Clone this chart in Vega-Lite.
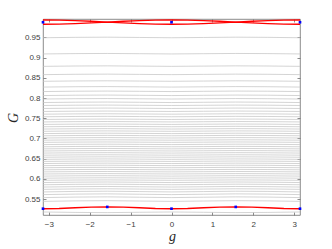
{
"$schema": "https://vega.github.io/schema/vega-lite/v6.json",
"width": 257, "height": 196,
"autosize": {"type": "none"},
"padding": {"left": 43, "top": 19, "right": 32, "bottom": 34},
"config": {"view": {"stroke": "#6e6e6e", "strokeWidth": 0.8},
  "axis": {"grid": false, "domain": false, "tickColor": "#6e6e6e", "tickSize": -3, "tickWidth": 0.8, "labelFont": "Liberation Sans", "labelFontSize": 8, "labelColor": "#404040", "titleFont": "Liberation Serif", "titleFontStyle": "italic", "titleFontWeight": "normal", "titleFontSize": 14, "titleColor": "#262626"}},
"datasets": {
"gray": [
{"k":1,"g":-3.1416,"G":0.9493},{"k":1,"g":-1.5708,"G":0.9507},{"k":1,"g":0,"G":0.9493},{"k":1,"g":1.5708,"G":0.9507},{"k":1,"g":3.1416,"G":0.9493},
{"k":2,"g":-3.1416,"G":0.9092},{"k":2,"g":-1.5708,"G":0.9104},{"k":2,"g":0,"G":0.9092},{"k":2,"g":1.5708,"G":0.9104},{"k":2,"g":3.1416,"G":0.9092},
{"k":3,"g":-3.1416,"G":0.8785},{"k":3,"g":-1.5708,"G":0.8797},{"k":3,"g":0,"G":0.8785},{"k":3,"g":1.5708,"G":0.8797},{"k":3,"g":3.1416,"G":0.8785},
{"k":4,"g":-3.1416,"G":0.8580},{"k":4,"g":-1.5708,"G":0.8592},{"k":4,"g":0,"G":0.8580},{"k":4,"g":1.5708,"G":0.8592},{"k":4,"g":3.1416,"G":0.8580},
{"k":5,"g":-3.1416,"G":0.8415},{"k":5,"g":-1.5708,"G":0.8427},{"k":5,"g":0,"G":0.8415},{"k":5,"g":1.5708,"G":0.8427},{"k":5,"g":3.1416,"G":0.8415},
{"k":6,"g":-3.1416,"G":0.8272},{"k":6,"g":-1.5708,"G":0.8284},{"k":6,"g":0,"G":0.8272},{"k":6,"g":1.5708,"G":0.8284},{"k":6,"g":3.1416,"G":0.8272},
{"k":7,"g":-3.1416,"G":0.8161},{"k":7,"g":-1.5708,"G":0.8173},{"k":7,"g":0,"G":0.8161},{"k":7,"g":1.5708,"G":0.8173},{"k":7,"g":3.1416,"G":0.8161},
{"k":8,"g":-3.1416,"G":0.8062},{"k":8,"g":-1.5708,"G":0.8074},{"k":8,"g":0,"G":0.8062},{"k":8,"g":1.5708,"G":0.8074},{"k":8,"g":3.1416,"G":0.8062},
{"k":9,"g":-3.1416,"G":0.7976},{"k":9,"g":-1.5708,"G":0.7988},{"k":9,"g":0,"G":0.7976},{"k":9,"g":1.5708,"G":0.7988},{"k":9,"g":3.1416,"G":0.7976},
{"k":10,"g":-3.1416,"G":0.7889},{"k":10,"g":-1.5708,"G":0.7901},{"k":10,"g":0,"G":0.7889},{"k":10,"g":1.5708,"G":0.7901},{"k":10,"g":3.1416,"G":0.7889},
{"k":11,"g":-3.1416,"G":0.7816},{"k":11,"g":-1.5708,"G":0.7826},{"k":11,"g":0,"G":0.7816},{"k":11,"g":1.5708,"G":0.7826},{"k":11,"g":3.1416,"G":0.7816},
{"k":12,"g":-3.1416,"G":0.7742},{"k":12,"g":-1.5708,"G":0.7752},{"k":12,"g":0,"G":0.7742},{"k":12,"g":1.5708,"G":0.7752},{"k":12,"g":3.1416,"G":0.7742},
{"k":13,"g":-3.1416,"G":0.7668},{"k":13,"g":-1.5708,"G":0.7678},{"k":13,"g":0,"G":0.7668},{"k":13,"g":1.5708,"G":0.7678},{"k":13,"g":3.1416,"G":0.7668},
{"k":14,"g":-3.1416,"G":0.7601},{"k":14,"g":-1.5708,"G":0.7611},{"k":14,"g":0,"G":0.7601},{"k":14,"g":1.5708,"G":0.7611},{"k":14,"g":3.1416,"G":0.7601},
{"k":15,"g":-3.1416,"G":0.7537},{"k":15,"g":-1.5708,"G":0.7547},{"k":15,"g":0,"G":0.7537},{"k":15,"g":1.5708,"G":0.7547},{"k":15,"g":3.1416,"G":0.7537},
{"k":16,"g":-3.1416,"G":0.7470},{"k":16,"g":-1.5708,"G":0.7480},{"k":16,"g":0,"G":0.7470},{"k":16,"g":1.5708,"G":0.7480},{"k":16,"g":3.1416,"G":0.7470},
{"k":17,"g":-3.1416,"G":0.7409},{"k":17,"g":-1.5708,"G":0.7419},{"k":17,"g":0,"G":0.7409},{"k":17,"g":1.5708,"G":0.7419},{"k":17,"g":3.1416,"G":0.7409},
{"k":18,"g":-3.1416,"G":0.7347},{"k":18,"g":-1.5708,"G":0.7357},{"k":18,"g":0,"G":0.7347},{"k":18,"g":1.5708,"G":0.7357},{"k":18,"g":3.1416,"G":0.7347},
{"k":19,"g":-3.1416,"G":0.7290},{"k":19,"g":-1.5708,"G":0.7300},{"k":19,"g":0,"G":0.7290},{"k":19,"g":1.5708,"G":0.7300},{"k":19,"g":3.1416,"G":0.7290},
{"k":20,"g":-3.1416,"G":0.7233},{"k":20,"g":-1.5708,"G":0.7243},{"k":20,"g":0,"G":0.7233},{"k":20,"g":1.5708,"G":0.7243},{"k":20,"g":3.1416,"G":0.7233},
{"k":21,"g":-3.1416,"G":0.7177},{"k":21,"g":-1.5708,"G":0.7187},{"k":21,"g":0,"G":0.7177},{"k":21,"g":1.5708,"G":0.7187},{"k":21,"g":3.1416,"G":0.7177},
{"k":22,"g":-3.1416,"G":0.7120},{"k":22,"g":-1.5708,"G":0.7130},{"k":22,"g":0,"G":0.7120},{"k":22,"g":1.5708,"G":0.7130},{"k":22,"g":3.1416,"G":0.7120},
{"k":23,"g":-3.1416,"G":0.7066},{"k":23,"g":-1.5708,"G":0.7076},{"k":23,"g":0,"G":0.7066},{"k":23,"g":1.5708,"G":0.7076},{"k":23,"g":3.1416,"G":0.7066},
{"k":24,"g":-3.1416,"G":0.7011},{"k":24,"g":-1.5708,"G":0.7021},{"k":24,"g":0,"G":0.7011},{"k":24,"g":1.5708,"G":0.7021},{"k":24,"g":3.1416,"G":0.7011},
{"k":25,"g":-3.1416,"G":0.6957},{"k":25,"g":-1.5708,"G":0.6967},{"k":25,"g":0,"G":0.6957},{"k":25,"g":1.5708,"G":0.6967},{"k":25,"g":3.1416,"G":0.6957},
{"k":26,"g":-3.1416,"G":0.6903},{"k":26,"g":-1.5708,"G":0.6913},{"k":26,"g":0,"G":0.6903},{"k":26,"g":1.5708,"G":0.6913},{"k":26,"g":3.1416,"G":0.6903},
{"k":27,"g":-3.1416,"G":0.6848},{"k":27,"g":-1.5708,"G":0.6858},{"k":27,"g":0,"G":0.6848},{"k":27,"g":1.5708,"G":0.6858},{"k":27,"g":3.1416,"G":0.6848},
{"k":28,"g":-3.1416,"G":0.6794},{"k":28,"g":-1.5708,"G":0.6804},{"k":28,"g":0,"G":0.6794},{"k":28,"g":1.5708,"G":0.6804},{"k":28,"g":3.1416,"G":0.6794},
{"k":29,"g":-3.1416,"G":0.6742},{"k":29,"g":-1.5708,"G":0.6752},{"k":29,"g":0,"G":0.6742},{"k":29,"g":1.5708,"G":0.6752},{"k":29,"g":3.1416,"G":0.6742},
{"k":30,"g":-3.1416,"G":0.6690},{"k":30,"g":-1.5708,"G":0.6700},{"k":30,"g":0,"G":0.6690},{"k":30,"g":1.5708,"G":0.6700},{"k":30,"g":3.1416,"G":0.6690},
{"k":31,"g":-3.1416,"G":0.6638},{"k":31,"g":-1.5708,"G":0.6648},{"k":31,"g":0,"G":0.6638},{"k":31,"g":1.5708,"G":0.6648},{"k":31,"g":3.1416,"G":0.6638},
{"k":32,"g":-3.1416,"G":0.6586},{"k":32,"g":-1.5708,"G":0.6596},{"k":32,"g":0,"G":0.6586},{"k":32,"g":1.5708,"G":0.6596},{"k":32,"g":3.1416,"G":0.6586},
{"k":33,"g":-3.1416,"G":0.6535},{"k":33,"g":-1.5708,"G":0.6545},{"k":33,"g":0,"G":0.6535},{"k":33,"g":1.5708,"G":0.6545},{"k":33,"g":3.1416,"G":0.6535},
{"k":34,"g":-3.1416,"G":0.6483},{"k":34,"g":-1.5708,"G":0.6493},{"k":34,"g":0,"G":0.6483},{"k":34,"g":1.5708,"G":0.6493},{"k":34,"g":3.1416,"G":0.6483},
{"k":35,"g":-3.1416,"G":0.6431},{"k":35,"g":-1.5708,"G":0.6441},{"k":35,"g":0,"G":0.6431},{"k":35,"g":1.5708,"G":0.6441},{"k":35,"g":3.1416,"G":0.6431},
{"k":36,"g":-3.1416,"G":0.6379},{"k":36,"g":-1.5708,"G":0.6389},{"k":36,"g":0,"G":0.6379},{"k":36,"g":1.5708,"G":0.6389},{"k":36,"g":3.1416,"G":0.6379},
{"k":37,"g":-3.1416,"G":0.6327},{"k":37,"g":-1.5708,"G":0.6337},{"k":37,"g":0,"G":0.6327},{"k":37,"g":1.5708,"G":0.6337},{"k":37,"g":3.1416,"G":0.6327},
{"k":38,"g":-3.1416,"G":0.6275},{"k":38,"g":-1.5708,"G":0.6285},{"k":38,"g":0,"G":0.6275},{"k":38,"g":1.5708,"G":0.6285},{"k":38,"g":3.1416,"G":0.6275},
{"k":39,"g":-3.1416,"G":0.6224},{"k":39,"g":-1.5708,"G":0.6234},{"k":39,"g":0,"G":0.6224},{"k":39,"g":1.5708,"G":0.6234},{"k":39,"g":3.1416,"G":0.6224},
{"k":40,"g":-3.1416,"G":0.6172},{"k":40,"g":-1.5708,"G":0.6182},{"k":40,"g":0,"G":0.6172},{"k":40,"g":1.5708,"G":0.6182},{"k":40,"g":3.1416,"G":0.6172},
{"k":41,"g":-3.1416,"G":0.6120},{"k":41,"g":-1.5708,"G":0.6130},{"k":41,"g":0,"G":0.6120},{"k":41,"g":1.5708,"G":0.6130},{"k":41,"g":3.1416,"G":0.6120},
{"k":42,"g":-3.1416,"G":0.6068},{"k":42,"g":-1.5708,"G":0.6078},{"k":42,"g":0,"G":0.6068},{"k":42,"g":1.5708,"G":0.6078},{"k":42,"g":3.1416,"G":0.6068},
{"k":43,"g":-3.1416,"G":0.6016},{"k":43,"g":-1.5708,"G":0.6026},{"k":43,"g":0,"G":0.6016},{"k":43,"g":1.5708,"G":0.6026},{"k":43,"g":3.1416,"G":0.6016},
{"k":44,"g":-3.1416,"G":0.5964},{"k":44,"g":-1.5708,"G":0.5974},{"k":44,"g":0,"G":0.5964},{"k":44,"g":1.5708,"G":0.5974},{"k":44,"g":3.1416,"G":0.5964},
{"k":45,"g":-3.1416,"G":0.5908},{"k":45,"g":-1.5708,"G":0.5922},{"k":45,"g":0,"G":0.5908},{"k":45,"g":1.5708,"G":0.5922},{"k":45,"g":3.1416,"G":0.5908},
{"k":46,"g":-3.1416,"G":0.5854},{"k":46,"g":-1.5708,"G":0.5868},{"k":46,"g":0,"G":0.5854},{"k":46,"g":1.5708,"G":0.5868},{"k":46,"g":3.1416,"G":0.5854},
{"k":47,"g":-3.1416,"G":0.5797},{"k":47,"g":-1.5708,"G":0.5811},{"k":47,"g":0,"G":0.5797},{"k":47,"g":1.5708,"G":0.5811},{"k":47,"g":3.1416,"G":0.5797},
{"k":48,"g":-3.1416,"G":0.5740},{"k":48,"g":-1.5708,"G":0.5754},{"k":48,"g":0,"G":0.5740},{"k":48,"g":1.5708,"G":0.5754},{"k":48,"g":3.1416,"G":0.5740},
{"k":49,"g":-3.1416,"G":0.5676},{"k":49,"g":-1.5708,"G":0.5694},{"k":49,"g":0,"G":0.5676},{"k":49,"g":1.5708,"G":0.5694},{"k":49,"g":3.1416,"G":0.5676},
{"k":50,"g":-3.1416,"G":0.5610},{"k":50,"g":-1.5708,"G":0.5628},{"k":50,"g":0,"G":0.5610},{"k":50,"g":1.5708,"G":0.5628},{"k":50,"g":3.1416,"G":0.5610},
{"k":51,"g":-3.1416,"G":0.5536},{"k":51,"g":-1.5708,"G":0.5554},{"k":51,"g":0,"G":0.5536},{"k":51,"g":1.5708,"G":0.5554},{"k":51,"g":3.1416,"G":0.5536},
{"k":52,"g":-3.1416,"G":0.5442},{"k":52,"g":-1.5708,"G":0.5460},{"k":52,"g":0,"G":0.5442},{"k":52,"g":1.5708,"G":0.5460},{"k":52,"g":3.1416,"G":0.5442},
{"k":53,"g":-3.1416,"G":0.5180},{"k":53,"g":-1.5708,"G":0.5164},{"k":53,"g":0,"G":0.5180},{"k":53,"g":1.5708,"G":0.5164},{"k":53,"g":3.1416,"G":0.5180}
],
"red": [
{"s":"u","g":-3.1416,"G":0.9933},{"s":"u","g":-2.7489,"G":0.9929},{"s":"u","g":-2.3562,"G":0.9918},{"s":"u","g":-1.9635,"G":0.9900},{"s":"u","g":-1.5708,"G":0.9880},{"s":"u","g":-1.1781,"G":0.9900},{"s":"u","g":-0.7854,"G":0.9918},{"s":"u","g":-0.3927,"G":0.9929},{"s":"u","g":0,"G":0.9933},{"s":"u","g":0.3927,"G":0.9929},{"s":"u","g":0.7854,"G":0.9918},{"s":"u","g":1.1781,"G":0.9900},{"s":"u","g":1.5708,"G":0.9880},{"s":"u","g":1.9635,"G":0.9900},{"s":"u","g":2.3562,"G":0.9918},{"s":"u","g":2.7489,"G":0.9929},{"s":"u","g":3.1416,"G":0.9933},
{"s":"l","g":-3.1416,"G":0.9827},{"s":"l","g":-2.7489,"G":0.9831},{"s":"l","g":-2.3562,"G":0.9843},{"s":"l","g":-1.9635,"G":0.9860},{"s":"l","g":-1.5708,"G":0.9880},{"s":"l","g":-1.1781,"G":0.9860},{"s":"l","g":-0.7854,"G":0.9843},{"s":"l","g":-0.3927,"G":0.9831},{"s":"l","g":0,"G":0.9827},{"s":"l","g":0.3927,"G":0.9831},{"s":"l","g":0.7854,"G":0.9843},{"s":"l","g":1.1781,"G":0.9860},{"s":"l","g":1.5708,"G":0.9880},{"s":"l","g":1.9635,"G":0.9860},{"s":"l","g":2.3562,"G":0.9843},{"s":"l","g":2.7489,"G":0.9831},{"s":"l","g":3.1416,"G":0.9827},
{"s":"b","g":-3.1416,"G":0.5261},{"s":"b","g":-2.7489,"G":0.5267},{"s":"b","g":-2.3562,"G":0.5283},{"s":"b","g":-1.9635,"G":0.5299},{"s":"b","g":-1.5708,"G":0.5305},{"s":"b","g":-1.1781,"G":0.5299},{"s":"b","g":-0.7854,"G":0.5283},{"s":"b","g":-0.3927,"G":0.5267},{"s":"b","g":0,"G":0.5261},{"s":"b","g":0.3927,"G":0.5267},{"s":"b","g":0.7854,"G":0.5283},{"s":"b","g":1.1781,"G":0.5299},{"s":"b","g":1.5708,"G":0.5305},{"s":"b","g":1.9635,"G":0.5299},{"s":"b","g":2.3562,"G":0.5283},{"s":"b","g":2.7489,"G":0.5267},{"s":"b","g":3.1416,"G":0.5261}
],
"pts": [
{"g":-3.1416,"G":0.9877},{"g":0,"G":0.9877},{"g":3.1416,"G":0.9877},
{"g":-3.1416,"G":0.5261},{"g":-1.5708,"G":0.5305},{"g":0,"G":0.5261},{"g":1.5708,"G":0.5305},{"g":3.1416,"G":0.5261}
]
},
"layer": [
{"data": {"name": "gray"},
 "mark": {"type": "line", "interpolate": "monotone", "stroke": "#c2c2c2", "strokeWidth": 0.7, "clip": true},
 "encoding": {
  "x": {"field": "g", "type": "quantitative", "scale": {"domain": [-3.1416, 3.1416], "nice": false, "zero": false},
        "axis": {"orient": "bottom", "values": [-3,-2,-1,0,1,2,3], "labelPadding": 8, "title": "g", "titleX": 129, "titleY": 25, "titleBaseline": "alphabetic", "titleAnchor": null}},
  "y": {"field": "G", "type": "quantitative", "scale": {"domain": [0.5105, 0.9957], "nice": false, "zero": false},
        "axis": {"orient": "left", "values": [0.55,0.6,0.65,0.7,0.75,0.8,0.85,0.9,0.95], "format": ".2~f", "labelPadding": 6, "title": "G", "titleX": -26, "titleY": 98.5, "titleAngle": 270, "titleAlign": "center", "titleBaseline": "alphabetic"}},
  "detail": {"field": "k", "type": "nominal"}}},
{"data": {"name": "red"},
 "mark": {"type": "line", "interpolate": "linear", "stroke": "#ff0000", "strokeWidth": 1.4},
 "encoding": {
  "x": {"field": "g", "type": "quantitative", "axis": null},
  "y": {"field": "G", "type": "quantitative", "axis": null},
  "detail": {"field": "s", "type": "nominal"}}},
{"data": {"name": "pts"},
 "mark": {"type": "point", "filled": true, "shape": "square", "size": 7, "color": "#0000ff", "opacity": 1},
 "encoding": {
  "x": {"field": "g", "type": "quantitative", "axis": {"orient": "top", "values": [-3,-2,-1,0,1,2,3], "labels": false, "title": null}},
  "y": {"field": "G", "type": "quantitative", "axis": {"orient": "right", "values": [0.55,0.6,0.65,0.7,0.75,0.8,0.85,0.9,0.95], "labels": false, "title": null}}}}
],
"resolve": {"axis": {"x": "independent", "y": "independent"}}
}
